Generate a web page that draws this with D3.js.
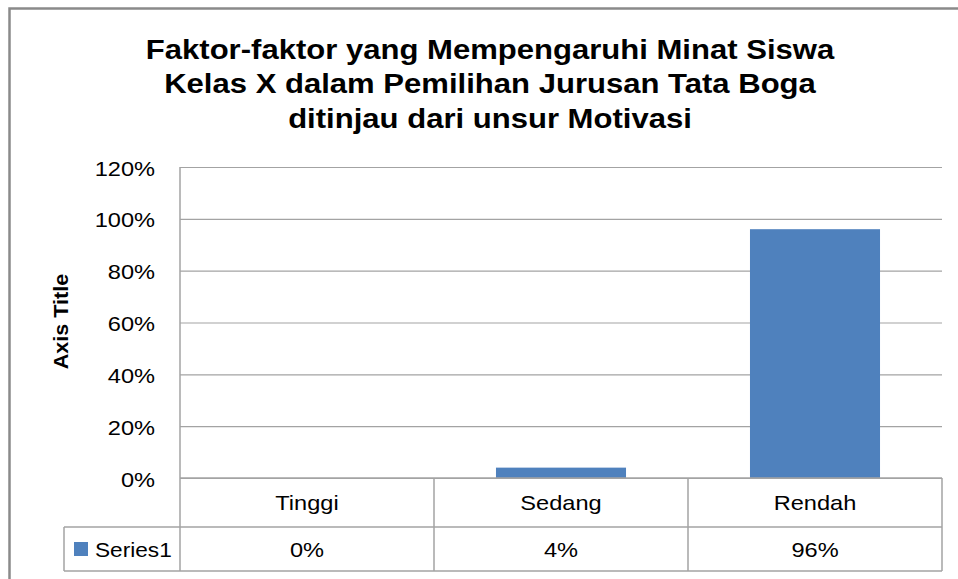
<!DOCTYPE html>
<html>
<head>
<meta charset="utf-8">
<script src="https://cdn.jsdelivr.net/npm/d3@7"></script>
<style>
  html, body { margin: 0; padding: 0; background: #fff; }
  svg { display: block; }
</style>
</head>
<body>
<div id="chart"></div>
<script>
// data
const titleLines = [
    'Faktor-faktor yang Mempengaruhi Minat Siswa',
    'Kelas X dalam Pemilihan Jurusan Tata Boga',
    'ditinjau dari unsur Motivasi'
];
const categories = ['Tinggi', 'Sedang', 'Rendah'];
const series1 = [0, 0.04, 0.96];
const seriesName = 'Series1';
const yTicks = [0, 0.2, 0.4, 0.6, 0.8, 1.0, 1.2];
const yAxisTitle = 'Axis Title';

const W = 958, H = 579;
const plot = { left: 180, right: 942, top: 167, bottom: 478 };
const rowBottoms = [527, 571];
const legendLeft = 64;

const FONT = "'Liberation Sans', Arial, sans-serif";
const GRID = '#a3a3a3';
const BAR = '#4f81bd';
const SX = 1.18;   // the reference text is drawn wide

const svg = d3.select('#chart').append('svg')
    .attr('width', W).attr('height', H);

// outer chart frame (cropped at right and bottom)
svg.append('rect')
    .attr('x', 9.5).attr('y', 8.5)
    .attr('width', W + 20).attr('height', H + 20)
    .attr('fill', '#fff').attr('stroke', '#8a8a8a').attr('stroke-width', 2.5);

const x = d3.scaleBand().domain(categories)
    .range([plot.left, plot.right])
    .paddingInner(0.488).paddingOuter(0.244);
const step = x.step();
const colLeft = c => x(c) - x.step() * x.paddingInner() / 2;

const y = d3.scaleLinear().domain([0, 1.2]).range([plot.bottom, plot.top]);
const pct = d3.format('.0%');

// gridlines + tick labels
const yAxis = svg.append('g')
    .attr('transform', `translate(${plot.left},0)`)
    .call(d3.axisLeft(y).tickValues(yTicks).tickFormat(pct)
        .tickSize(-(plot.right - plot.left)).tickSizeOuter(0).tickPadding(25));
yAxis.select('.domain').remove();
yAxis.selectAll('.tick line').attr('stroke', GRID).attr('stroke-width', 1.2);
yAxis.selectAll('.tick text')
    .attr('x', null).attr('dy', null).attr('y', 8)
    .attr('transform', `translate(-25,0) scale(${SX},1)`)
    .attr('font-family', FONT).attr('font-size', 20).attr('fill', '#000');

// bars
svg.append('g').selectAll('rect')
    .data(series1)
    .join('rect')
    .attr('x', (d, i) => x(categories[i]))
    .attr('y', d => y(d))
    .attr('width', x.bandwidth())
    .attr('height', d => y(0) - y(d))
    .attr('fill', BAR);

// data table lines
const tbl = svg.append('g').attr('stroke', GRID).attr('stroke-width', 1.5).attr('fill', 'none');
tbl.append('line').attr('x1', plot.left).attr('x2', plot.right).attr('y1', plot.bottom).attr('y2', plot.bottom);
rowBottoms.forEach(yy => {
    tbl.append('line').attr('x1', legendLeft).attr('x2', plot.right).attr('y1', yy).attr('y2', yy);
});
tbl.append('line').attr('x1', plot.left).attr('x2', plot.left).attr('y1', plot.top).attr('y2', rowBottoms[1]);
tbl.append('line').attr('x1', legendLeft).attr('x2', legendLeft).attr('y1', rowBottoms[0]).attr('y2', rowBottoms[1]);
categories.forEach(c => {
    const xr = colLeft(c) + step;
    tbl.append('line').attr('x1', xr).attr('x2', xr).attr('y1', plot.bottom).attr('y2', rowBottoms[1]);
});

function stretchedText(g, tx, ty, str, size, weight) {
    return g.append('text')
        .attr('transform', `translate(${tx},${ty}) scale(${SX},1)`)
        .attr('text-anchor', 'middle')
        .attr('font-family', FONT).attr('font-size', size).attr('font-weight', weight || 'normal')
        .attr('fill', '#000')
        .text(str);
}

// category row
const row1Mid = (plot.bottom + rowBottoms[0]) / 2;
const row2Mid = (rowBottoms[0] + rowBottoms[1]) / 2;
categories.forEach(c => {
    stretchedText(svg, colLeft(c) + step / 2, row1Mid + 7.5, c, 20);
});
series1.forEach((v, i) => {
    stretchedText(svg, colLeft(categories[i]) + step / 2, row2Mid + 7.5, pct(v), 20);
});

// legend key in the table
svg.append('rect')
    .attr('x', 74).attr('y', row2Mid - 7).attr('width', 14).attr('height', 14)
    .attr('fill', BAR);
svg.append('text')
    .attr('transform', `translate(95,${row2Mid + 7.5}) scale(${SX * 0.96},1)`)
    .attr('font-family', FONT).attr('font-size', 20).attr('fill', '#000')
    .text(seriesName);

// axis title
svg.append('text')
    .attr('transform', `translate(68,321.5) rotate(-90) scale(1.08,1)`)
    .attr('text-anchor', 'middle')
    .attr('font-family', FONT).attr('font-size', 20).attr('font-weight', 'bold')
    .attr('fill', '#000')
    .text(yAxisTitle);

// chart title
titleLines.forEach((t, i) => {
    svg.append('text')
        .attr('transform', `translate(490,${58.5 + i * 34.5}) scale(1.09,1)`)
        .attr('text-anchor', 'middle')
        .attr('font-family', FONT).attr('font-size', 28.5).attr('font-weight', 'bold')
        .attr('fill', '#000')
        .text(t);
});
</script>
</body>
</html>
